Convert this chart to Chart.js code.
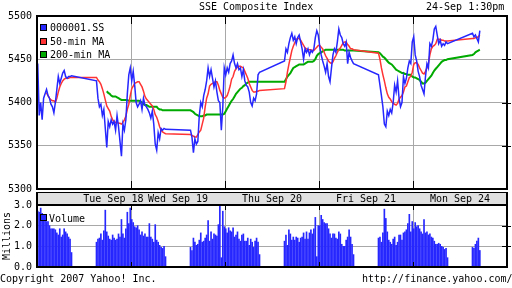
<!DOCTYPE html>
<html>
<head>
<meta charset="utf-8">
<script src="https://cdn.jsdelivr.net/npm/chart.js@4"></script>
<style>
body { margin: 0; background: #fff; }
#wrap { position: relative; width: 512px; height: 288px; overflow: hidden; background: #fff;
        font-family: "DejaVu Sans Mono", monospace; font-size: 10px; color: #000; }
#wrap div { position: absolute; white-space: pre; line-height: 12px; }
#wrap div.sw { width: 5px; height: 5px; border: 1px solid #000; }
canvas { position: absolute; left: 0; }
</style>
</head>
<body>
<div id="wrap">
  <canvas id="priceChart" width="512" height="200" style="top:0"></canvas>
  <canvas id="volChart" width="512" height="86" style="top:192px"></canvas>

  <div style="left:199px;top:1px">SSE Composite Index</div>
  <div style="left:426px;top:1px">24-Sep 1:30pm</div>

  <div class="sw" style="left:40px;top:24px;background:#2626ff"></div>
  <div style="left:50px;top:22px">000001.SS</div>
  <div class="sw" style="left:40px;top:38px;background:#ff3333"></div>
  <div style="left:50px;top:36px">50-min MA</div>
  <div class="sw" style="left:40px;top:51px;background:#00aa00"></div>
  <div style="left:50px;top:49px">200-min MA</div>

  <div class="sw" style="left:40px;top:214px;background:#2626ff"></div>
  <div style="left:49px;top:213px">Volume</div>

  <div style="left:0;top:273px">Copyright 2007 Yahoo! Inc.</div>
  <div style="left:362px;top:273px">http://finance.yahoo.com/</div>
</div>

<script>
// one slot = 5 trading minutes; a day is 64 slots (48 trading + 16 overnight),
// the day gridline falls on the lunch break
var dayLabels = ['Tue Sep 18', 'Wed Sep 19', 'Thu Sep 20', 'Fri Sep 21', 'Mon Sep 24'];
var dayLabelAt = [52, 96, 160, 224, 288];
var priceTicks = [5300, 5350, 5400, 5450, 5500];
var volTicks = [0, 1, 2, 3];

// sessions shown: [day, first slot, last slot + 1]
var sessions = [[0, 24, 48], [1, 0, 48], [2, 0, 48], [3, 0, 48], [4, 0, 48], [5, 0, 6]];

var price = [
  5445,5385,5400,5380,5405,5410,5415,5408,5405,5398,5395,5388,5400,5415,5430,5422,5428,5434,5437,5430,5428,5430,5430,5431,
  5425,5405,5395,5398,5385,5392,5370,5348,5378,5372,5380,5375,5378,5368,5385,5372,5355,5338,5375,5368,5380,5410,5432,5440,
  5425,5436,5420,5400,5395,5398,5402,5392,5405,5397,5395,5392,5388,5382,5390,5375,5352,5345,5365,5358,5370,5368,5370,5369,
  5368,5360,5342,5358,5352,5355,5385,5400,5395,5408,5415,5425,5440,5430,5438,5428,5418,5425,5412,5402,5400,5368,5395,5440,
  5432,5440,5435,5445,5448,5455,5445,5440,5445,5438,5440,5430,5438,5425,5420,5418,5412,5400,5396,5405,5402,5410,5432,5435,
  5448,5462,5458,5468,5475,5480,5472,5476,5468,5475,5478,5470,5462,5450,5462,5458,5462,5455,5460,5458,5462,5475,5483,5478,
  5465,5455,5448,5442,5435,5445,5430,5424,5440,5455,5462,5458,5470,5485,5478,5475,5468,5465,5470,5445,5458,5452,5448,5445,
  5432,5420,5408,5395,5375,5372,5390,5385,5392,5388,5400,5420,5412,5425,5405,5395,5400,5430,5422,5428,5440,5448,5445,5470,
  5476,5455,5448,5436,5430,5420,5415,5410,5430,5445,5440,5468,5465,5472,5485,5488,5478,5468,5472,5465,5468,5466,5470,5468,
  5480,5476,5478,5474,5470,5483
];

var ma50 = [
  null,null,null,null,null,null,5411,5408,5405,5403,5402,5402,5400,5405,5412,5418,5422,5425,5427,5428,5428,5428,5429,5429,
  5429,5426,5424,5421,5416,5410,5403,5396,5393,5390,5384,5380,5378,5377,5377,5376,5376,5375,5377,5380,5384,5392,5398,5408,
  5416,5419,5422,5423,5424,5424,5421,5418,5413,5407,5404,5402,5400,5398,5396,5392,5386,5383,5378,5372,5368,5366,5365,5364,
  5363,5362,5361,5360,5360,5363,5366,5368,5375,5382,5395,5405,5410,5419,5421,5422,5423,5424,5424,5420,5414,5410,5406,5405,
  5406,5408,5413,5419,5427,5430,5436,5439,5441,5442,5442,5441,5440,5436,5432,5428,5422,5418,5414,5412,5412,5413,5413,5414,
  5416,5424,5435,5444,5452,5460,5465,5469,5473,5474,5474,5472,5469,5466,5463,5462,5461,5461,5461,5460,5460,5462,5464,5466,
  5466,5464,5462,5458,5454,5451,5448,5446,5445,5447,5451,5454,5458,5461,5463,5466,5469,5470,5470,5467,5465,5462,5462,5461,
  5457,5450,5440,5432,5425,5417,5410,5406,5404,5401,5399,5398,5397,5399,5404,5406,5408,5412,5418,5419,5424,5429,5430,5435,
  5444,5446,5446,5444,5440,5437,5434,5433,5436,5440,5445,5455,5462,5465,5466,5468,5473,5473,5473,5472,5472,5471,5471,5471,
  5474,5474,5475,5475,5476,5478
];

var ma200 = [
  null,null,null,null,null,null,null,null,null,null,null,null,null,null,null,null,null,null,null,null,null,null,null,null,
  null,null,null,null,null,null,null,5413,5411,5410,5408,5407,5407,5407,5406,5405,5404,5403,5403,5403,5403,5403,5402,5402,
  5402,5402,5402,5402,5402,5402,5401,5400,5398,5397,5397,5396,5395,5395,5395,5395,5395,5395,5393,5392,5392,5391,5391,5391,
  5391,5390,5389,5387,5386,5385,5384,5384,5384,5385,5385,5386,5386,5386,5386,5386,5386,5386,5386,5386,5386,5386,5386,5387,
  5390,5393,5396,5399,5402,5404,5407,5410,5412,5414,5416,5417,5419,5420,5422,5423,5424,5424,5424,5424,5424,5424,5424,5424,
  5424,5427,5430,5432,5434,5437,5440,5441,5442,5443,5444,5444,5444,5444,5445,5446,5447,5447,5447,5447,5448,5450,5454,5456,
  5457,5458,5459,5460,5461,5461,5461,5461,5461,5461,5461,5461,5461,5461,5461,5461,5461,5460,5460,5460,5460,5460,5460,5460,
  5458,5457,5455,5453,5452,5450,5448,5446,5445,5444,5442,5440,5438,5437,5436,5435,5434,5434,5433,5433,5432,5432,5432,5430,
  5429,5429,5428,5427,5426,5424,5422,5422,5423,5425,5427,5429,5431,5434,5437,5439,5441,5443,5445,5447,5448,5449,5449,5450,
  5455,5456,5458,5459,5460,5461
];

// millions of shares per 5 minutes
var volume = [
  2.7,2.65,2.85,2.6,2.5,2.45,2.2,2.2,2.0,1.85,1.85,1.85,1.8,1.65,1.55,1.85,1.45,1.55,1.85,1.7,1.6,1.45,1.35,0.7,
  1.2,1.35,1.4,1.6,1.3,1.75,2.75,1.7,1.5,1.35,1.3,1.55,1.4,1.3,1.35,1.6,1.45,2.3,1.6,1.4,1.85,2.65,2.1,2.85,
  2.3,2.15,1.95,1.9,2.0,1.8,1.55,1.7,1.5,1.6,1.45,1.45,2.1,1.45,1.35,1.2,2.05,1.3,1.2,1.05,0.95,0.9,1.0,0.5,
  0.95,0.8,1.4,1.2,1.05,1.1,1.3,1.65,1.2,1.25,1.4,1.55,2.25,1.25,1.7,1.35,1.6,1.55,1.5,2.05,3.0,0.45,2.7,1.95,
  1.85,1.65,1.9,1.75,1.7,1.9,1.45,1.55,1.7,1.35,1.25,1.55,1.6,1.25,1.25,1.4,1.05,1.35,1.2,0.95,1.25,1.4,1.2,0.6,
  1.25,1.55,1.05,1.8,1.6,1.3,1.45,1.3,1.45,1.4,1.2,1.4,1.45,1.65,1.35,1.7,1.35,1.65,1.8,1.6,1.85,2.4,0.5,2.0,
  2.0,2.5,2.3,2.15,2.1,2.1,1.85,1.6,1.4,1.6,1.6,1.4,1.35,1.7,1.6,1.1,1.0,1.0,1.3,1.45,1.8,1.45,1.1,0.6,
  1.4,1.45,1.2,1.65,2.8,2.35,1.7,1.3,1.2,1.1,1.35,1.45,1.05,1.2,1.55,1.55,1.3,1.65,1.7,1.8,2.1,2.55,1.7,2.2,
  1.85,2.15,1.95,2.0,1.85,1.7,1.6,2.3,1.65,1.7,1.55,1.6,1.45,1.4,1.25,1.1,1.1,1.15,1.1,1.0,0.95,0.85,0.9,0.45,
  0.95,0.9,1.1,1.25,1.4,0.8
];

var BLUE = '#2626ff', RED = '#ff3333', GREEN = '#00aa00', GRID = '#a8a8a8';

var slotX = [];
sessions.forEach(function(s) {
    for (var j = s[1]; j < s[2]; j++) slotX.push(s[0] * 64 - 24 + j + 0.5);
});
function points(arr) {
    return arr.map(function(v, i) { return { x: slotX[i], y: v }; });
}

Chart.defaults.font.family = "'DejaVu Sans Mono', monospace";
Chart.defaults.font.size = 10;
Chart.defaults.color = '#000';

// black frame, inward ticks on the gridlines, optional grey date band above
var frame = {
    id: 'frame',
    beforeDraw: function(chart, args, opts) {
        if (!opts.band) return;
        var a = chart.chartArea, ctx = chart.ctx;
        ctx.save();
        ctx.fillStyle = '#e0e0e0';
        ctx.fillRect(a.left, 0, a.right - a.left, a.top);
        ctx.restore();
    },
    afterDatasetsDraw: function(chart, args, opts) {
        var a = chart.chartArea, ctx = chart.ctx, sx = chart.scales.x, sy = chart.scales.y;
        var L = Math.round(a.left), R = Math.round(a.right), T = Math.round(a.top), B = Math.round(a.bottom);
        ctx.save();
        ctx.strokeStyle = '#000';
        ctx.lineWidth = 1;
        ctx.beginPath();
        sx.ticks.forEach(function(t) {
            if (t.value <= sx.min || t.value >= sx.max) return;
            var px = Math.round(sx.getPixelForValue(t.value)) + 0.5;
            ctx.moveTo(px, T); ctx.lineTo(px, T + opts.xTick);
            ctx.moveTo(px, B); ctx.lineTo(px, B - opts.xTick);
        });
        sy.ticks.forEach(function(t) {
            if (t.value <= sy.min || t.value >= sy.max) return;
            var py = Math.round(sy.getPixelForValue(t.value)) + 0.5;
            ctx.moveTo(R - 5, py); ctx.lineTo(R + 4, py);
        });
        ctx.stroke();
        ctx.lineWidth = 2;
        ctx.strokeRect(L, T, R - L, B - T);
        if (opts.band) ctx.strokeRect(L, 0, R - L, T);
        ctx.restore();
    }
};

new Chart(document.getElementById('priceChart'), {
    type: 'line',
    data: {
        datasets: [
            { label: '000001.SS', data: points(price), borderColor: BLUE, borderWidth: 1.5, order: 0 },
            { label: '50-min MA', data: points(ma50), borderColor: RED, borderWidth: 1.5, order: 1 },
            { label: '200-min MA', data: points(ma200), borderColor: GREEN, borderWidth: 2, order: 2 }
        ]
    },
    options: {
        responsive: false,
        animation: false,
        events: [],
        layout: { autoPadding: false, padding: { top: 16, right: 5, bottom: 8, left: 0 } },
        elements: { point: { radius: 0 }, line: { tension: 0 } },
        plugins: { legend: { display: false }, tooltip: { enabled: false }, frame: { xTick: 8 } },
        scales: {
            x: {
                type: 'linear', min: 0, max: 320,
                ticks: { display: false, stepSize: 64 },
                grid: { color: GRID, drawTicks: false },
                border: { display: false },
                afterFit: function(s) { s.height = 0; }
            },
            y: {
                min: priceTicks[0], max: priceTicks[priceTicks.length - 1],
                afterBuildTicks: function(s) { s.ticks = priceTicks.map(function(v) { return { value: v }; }); },
                ticks: { padding: 5, callback: function(v) { return String(v); } },
                grid: { color: GRID, drawTicks: false },
                border: { display: false },
                afterFit: function(s) { s.width = 37; }
            }
        }
    },
    plugins: [frame]
});

new Chart(document.getElementById('volChart'), {
    type: 'bar',
    data: {
        datasets: [
            { label: 'Volume', data: points(volume), backgroundColor: BLUE, barThickness: 1, xAxisID: 'x', yAxisID: 'y' }
        ]
    },
    options: {
        responsive: false,
        animation: false,
        events: [],
        layout: { autoPadding: false, padding: { top: 0, right: 5, bottom: 7, left: 0 } },
        plugins: { legend: { display: false }, tooltip: { enabled: false }, frame: { xTick: 5, band: true } },
        scales: {
            x: {
                type: 'linear', min: 0, max: 320, offset: false,
                ticks: { display: false, stepSize: 64 },
                grid: { color: GRID, drawTicks: false, offset: false },
                border: { display: false },
                afterFit: function(s) { s.height = 0; }
            },
            days: {
                type: 'linear', axis: 'x', position: 'top', min: 0, max: 320, offset: false,
                grid: { display: false, drawTicks: false, offset: false },
                border: { display: false },
                afterBuildTicks: function(s) { s.ticks = dayLabelAt.map(function(v) { return { value: v }; }); },
                ticks: {
                    autoSkip: false, maxRotation: 0, padding: 0,
                    callback: function(v, i) { return dayLabels[i]; }
                },
                afterFit: function(s) { s.height = 13; }
            },
            y: {
                min: volTicks[0], max: volTicks[volTicks.length - 1],
                afterBuildTicks: function(s) { s.ticks = volTicks.map(function(v) { return { value: v }; }); },
                ticks: { padding: 5, callback: function(v) { return v.toFixed(1); } },
                grid: { color: GRID, drawTicks: false },
                border: { display: false },
                title: { display: true, text: 'Millions', padding: { top: 1, bottom: 0 } },
                afterFit: function(s) { s.width = 37; }
            }
        }
    },
    plugins: [frame]
});
</script>
</body>
</html>
